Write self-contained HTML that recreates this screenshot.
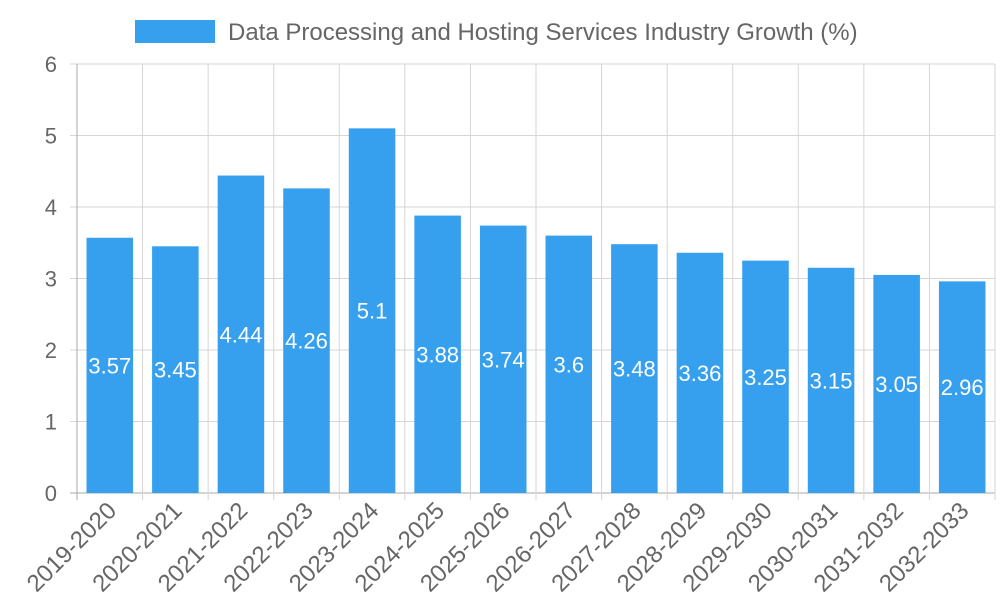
<!DOCTYPE html>
<html><head><meta charset="utf-8"><style>
html,body{margin:0;padding:0;background:#fff;}
svg{display:block;font-family:"Liberation Sans",sans-serif;}
</style></head><body>
<svg id="chart" width="1000" height="600">
<g>
<rect x="135" y="20" width="80" height="23" fill="#36a0ee"></rect>
<text x="228" y="40" font-size="24" fill="#666">Data Processing and Hosting Services Industry Growth (%)</text>
</g>
<g id="grid"></g><g id="bars"></g><g id="labels"></g>
</svg>
<script>
const categories=["2019-2020","2020-2021","2021-2022","2022-2023","2023-2024","2024-2025","2025-2026","2026-2027","2027-2028","2028-2029","2029-2030","2030-2031","2031-2032","2032-2033"];
const values=[3.57,3.45,4.44,4.26,5.1,3.88,3.74,3.6,3.48,3.36,3.25,3.15,3.05,2.96];
const yTicks=[0,1,2,3,4,5,6];
const NS="http://www.w3.org/2000/svg";
const X0=77,X1=995,Y0=493,Y1=64,YMAX=6;
const bw=(X1-X0)/categories.length;
const y=v=>Y0-(v/YMAX)*(Y0-Y1);
const xc=i=>X0+bw*(i+0.5);
function mk(tag,attrs,parent){const e=document.createElementNS(NS,tag);for(const k in attrs)e.setAttribute(k,attrs[k]);parent.appendChild(e);return e;}
const grid=document.getElementById('grid'),bars=document.getElementById('bars'),labels=document.getElementById('labels');
yTicks.forEach(t=>{
 const l=mk('line',{x1:70,x2:X1,y1:y(t),y2:y(t),stroke:t===0?'#aaa':'#d6d6d6','stroke-width':1},grid);
 
 
 const tx=mk('text',{x:57,y:y(t)+8,'text-anchor':'end','font-size':22,fill:'#666'},grid);
 tx.textContent=t;
 
 
});
for(let i=0;i<=categories.length;i++){
 const x=X0+bw*i;
 const l=mk('line',{x1:x,x2:x,y1:Y1,y2:Y0+7,stroke:i===0?'#aaa':'#d6d6d6','stroke-width':1},grid);
 
 
}
categories.forEach((c,i)=>{
 const w=bw*0.71;
 const r=mk('rect',{x:xc(i)-w/2,y:y(values[i]),width:w,height:Y0-y(values[i]),fill:'#36a0ee'},bars);
 
 
 const v=mk('text',{x:xc(i),y:(y(values[i])+Y0)/2+8,'text-anchor':'middle','font-size':22,fill:'#fff'},labels);
 v.textContent=values[i];
 
 
 const xl=mk('text',{x:0,y:0,'text-anchor':'end','font-size':24,fill:'#666',transform:`translate(${xc(i)+8},${Y0+19}) rotate(-45)`},labels);
 xl.textContent=c;
 
 
});
</script>
</body></html>
